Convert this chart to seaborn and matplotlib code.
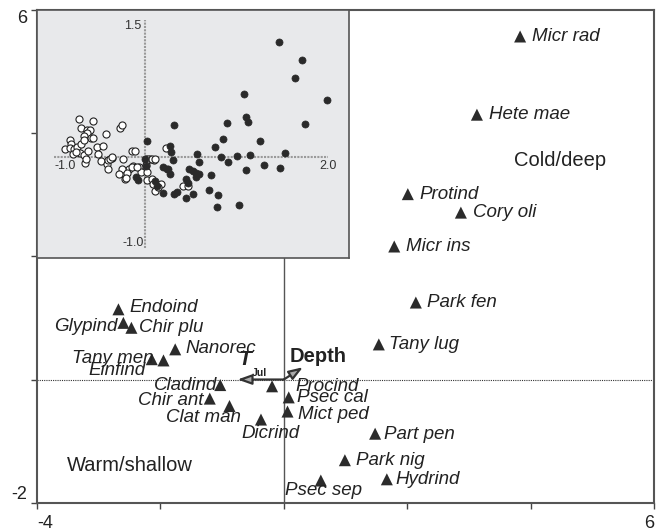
import numpy as np
import pandas as pd
import matplotlib
matplotlib.use("Agg")
import matplotlib.pyplot as plt
import seaborn as sns

# ---------------- data ----------------
species = ["Micr rad", "Hete mae", "Protind", "Cory oli", "Micr ins", "Park fen",
           "Tany lug", "Part pen", "Park nig", "Hydrind", "Psec sep", "Procind",
           "Psec cal", "Mict ped", "Dicrind", "Clat man", "Chir ant", "Cladind",
           "Nanorec", "Tany men", "Einfind", "Endoind", "Glypind", "Chir plu"]
sp_x = [3.83, 3.13, 2.01, 2.87, 1.79, 2.14, 1.54, 1.48, 0.99, 1.67, 0.60, -0.19,
        0.08, 0.06, -0.37, -0.88, -1.20, -1.03, -1.76, -2.14, -1.95, -2.68, -2.60, -2.47]
sp_y = [5.57, 4.30, 3.01, 2.71, 2.16, 1.25, 0.57, -0.88, -1.31, -1.62, -1.64, -0.11,
        -0.29, -0.52, -0.65, -0.43, -0.31, -0.09, 0.49, 0.33, 0.31, 1.14, 0.92, 0.84]

env_names = ["T", "Depth"]
env_x = [-0.75, 0.31]
env_y = [0.00, 0.20]

x_ticks = [-4, -2, 0, 2, 4, 6]
x_ticklabels = ["-4", "", "", "", "", "6"]
y_ticks = [-2, 0, 2, 4, 6]
y_ticklabels = ["-2", "", "", "", "6"]

# inset: sites (filled = cold/deep, open = warm/shallow)
fill_x = [1.465, 1.72, 1.64, 1.99, 1.08, 1.10, 1.12, 0.89, 1.75, 0.31, 0.85, 1.26,
          0.76, 0.02, 0.27, 0.28, 1.53, 0.57, 0.83, 1.00, 1.15, 0.30, 0.91, 0.59,
          1.30, 1.48, 1.10, 0.19, 0.235, 0.275, 0.48, 0.52, 0.56, 0.59, 0.56, 0.72,
          0.45, 0.465, 0.005, 0.00, -0.105, -0.075, 0.107, 0.125, 0.19, 0.31, 0.344,
          0.443, 0.52, 0.70, 0.80, 0.79, 1.03, 0.25]
fill_y = [1.26, 1.06, 0.86, 0.62, 0.69, 0.44, 0.38, 0.37, 0.36, 0.35, 0.19, 0.17,
          0.11, 0.17, 0.12, 0.055, 0.04, 0.03, 0.00, 0.005, 0.02, -0.04, -0.06, -0.06,
          -0.09, -0.12, -0.14, -0.11, -0.135, -0.19, -0.135, -0.16, -0.18, -0.19, -0.22, -0.20,
          -0.24, -0.285, -0.10, -0.02, -0.22, -0.26, -0.27, -0.32, -0.40, -0.41, -0.39,
          -0.45, -0.41, -0.36, -0.42, -0.55, -0.53, -0.13]
open_x = [-0.73, -0.57, -0.70, -0.64, -0.605, -0.634, -0.667, -0.60, -0.576, -0.43,
          -0.82, -0.817, -0.88, -0.83, -0.78, -0.744, -0.70, -0.675, -0.715, -0.67,
          -0.623, -0.788, -0.76, -0.532, -0.466, -0.521, -0.485, -0.66, -0.645, -0.415,
          -0.404, -0.368, -0.408, -0.28, -0.25, -0.24, -0.145, -0.112, 0.005, 0.052,
          0.10, 0.008, -0.065, -0.138, -0.175, -0.255, -0.29, -0.22, -0.204, -0.05,
          0.015, 0.015, 0.07, 0.08, 0.11, 0.176, 0.224, 0.41, 0.472, 0.143,
          -0.39, -0.36, -0.15, -0.094, -0.21, 0.03, 0.07, 0.11]
open_y = [0.41, 0.39, 0.31, 0.29, 0.29, 0.26, 0.23, 0.21, 0.20, 0.25,
          0.18, 0.135, 0.08, 0.10, 0.09, 0.105, 0.14, 0.18, 0.04, 0.02,
          0.06, 0.03, 0.055, 0.11, 0.115, 0.03, -0.05, -0.07, -0.03, -0.08,
          -0.04, -0.01, -0.13, 0.31, 0.35, -0.02, 0.065, 0.065, -0.02, -0.03,
          -0.04, -0.09, -0.11, -0.10, -0.13, -0.13, -0.19, -0.24, -0.175, -0.165,
          -0.165, -0.26, -0.245, -0.30, -0.38, -0.30, 0.10, -0.32, -0.32, -0.33,
          -0.02, -0.007, -0.11, -0.116, -0.23, -0.025, -0.025, -0.025]

# ---------------- style / layout ----------------
sns.set_theme(style="white")
plt.rcParams["font.family"] = ["Liberation Sans", "DejaVu Sans"]

# label offsets in pixels (dx, dy, ha, va)
label_style = {
    "Micr rad": (12, 0, "left", "center"), "Hete mae": (12, 0, "left", "center"),
    "Protind": (12, 0, "left", "center"), "Cory oli": (12, 0, "left", "center"),
    "Micr ins": (12, 0, "left", "center"), "Park fen": (11, 0, "left", "center"),
    "Tany lug": (10, 0, "left", "center"), "Part pen": (9, -1, "left", "center"),
    "Park nig": (11, 0, "left", "center"), "Hydrind": (9, 0, "left", "center"),
    "Psec sep": (3, -10, "center", "center"), "Procind": (23, 0, "left", "center"),
    "Psec cal": (8, 0, "left", "center"), "Mict ped": (10, -3, "left", "center"),
    "Dicrind": (10, -14, "center", "center"), "Clat man": (11, -11, "right", "center"),
    "Chir ant": (-6, -2, "right", "center"), "Cladind": (-3, 0, "right", "center"),
    "Nanorec": (10, 1, "left", "center"), "Tany men": (2, 1, "right", "center"),
    "Einfind": (-18, -10, "right", "center"), "Endoind": (11, 2, "left", "center"),
    "Glypind": (-6, -4, "right", "center"), "Chir plu": (8, 0, "left", "center"),
}

W, H, DPI = 661, 532, 100
fig = plt.figure(figsize=(W / DPI, H / DPI), dpi=DPI)
fig.patch.set_facecolor("white")
L, R, B, T = 37 / W, 654 / W, 1 - 502.7 / H, 1 - 10 / H
ax = fig.add_axes([L, B, R - L, T - B])
ax.set_xlim(-4, 6)
ax.set_ylim(-2, 6)

ax.axhline(0, color="#333333", lw=0.8, ls=(0, (1, 1)), zorder=1)
ax.axvline(0, color="#555555", lw=1.0, zorder=1)

sp_df = pd.DataFrame({"x": sp_x, "y": sp_y, "name": species})
sns.scatterplot(data=sp_df, x="x", y="y", marker="^", s=75, color="#2b2b2b",
                edgecolor="none", ax=ax, zorder=3, legend=False)
for n, xx, yy in zip(species, sp_x, sp_y):
    dx, dy, ha, va = label_style[n]
    ax.annotate(n, (xx, yy), xytext=(dx, dy), textcoords="offset pixels",
                ha=ha, va=va, fontsize=13.5, style="italic", color="#222222", zorder=4)

# environmental arrows
for ex, ey in zip(env_x, env_y):
    ax.annotate("", xy=(ex, ey), xytext=(0, 0),
                arrowprops=dict(arrowstyle="-|>,head_length=0.7,head_width=0.25",
                                mutation_scale=12,
                                facecolor="#aaaaaa", edgecolor="#333333", lw=1.6,
                                shrinkA=0, shrinkB=0), zorder=5)
ax.text(-0.63, 0.32, env_names[0], fontsize=15, fontweight="bold", style="italic",
        ha="center", va="center", color="#222222")
ax.text(-0.39, 0.11, "Jul", fontsize=7.5, fontweight="bold",
        ha="center", va="center", color="#222222")
ax.text(0.10, 0.37, env_names[1], fontsize=14.5, fontweight="bold",
        ha="left", va="center", color="#222222")

ax.text(4.47, 3.55, "Cold/deep", fontsize=14.5, ha="center", va="center", color="#222222")
ax.text(-2.49, -1.39, "Warm/shallow", fontsize=14.5, ha="center", va="center", color="#222222")

ax.set_xticks(x_ticks)
ax.set_xticklabels(x_ticklabels)
ax.set_yticks(y_ticks)
ax.set_yticklabels(y_ticklabels)
ax.tick_params(axis="both", direction="out", length=4, width=1, color="#444444",
               labelsize=13, labelcolor="#222222")
ax.tick_params(axis="x", pad=5)
ax.tick_params(axis="y", pad=3)
ax.tick_params(left=True, bottom=True)
xl = ax.get_xticklabels()
xl[0].set_ha("left")
xl[-1].set_ha("right")
yl = ax.get_yticklabels()
yl[0].set_va("bottom")
yl[-1].set_va("top")
ax.set_xlabel("")
ax.set_ylabel("")
for side in ["left", "bottom", "top", "right"]:
    ax.spines[side].set_visible(True)
    ax.spines[side].set_color("#555555")
    ax.spines[side].set_linewidth(1.5)

# ---------------- inset ----------------
IL, IR, IB, IT = 37 / W, 349 / W, 1 - 258 / H, 1 - 10 / H
axi = fig.add_axes([IL, IB, IR - IL, IT - IB])
axi.set_facecolor("#e8e9eb")
axi.set_xlim(-1.186, 2.231)
axi.set_ylim(-1.109, 1.607)
axi.plot([-1.0, 2.0], [0, 0], color="#9a9a9a", lw=1.5, ls=(0, (1, 0.6)), zorder=1)
axi.plot([0, 0], [-1.0, 1.5], color="#9a9a9a", lw=1.5, ls=(0, (1, 0.6)), zorder=1)
fdf = pd.DataFrame({"x": fill_x, "y": fill_y})
odf = pd.DataFrame({"x": open_x, "y": open_y})
sns.scatterplot(data=odf, x="x", y="y", s=26, color="white", edgecolor="#222222",
                linewidth=0.8, ax=axi, zorder=3, legend=False)
sns.scatterplot(data=fdf, x="x", y="y", s=26, color="#2a2a2a", edgecolor="#2a2a2a",
                linewidth=0.5, ax=axi, zorder=4, legend=False)
axi.text(-0.04, 1.43, "1.5", fontsize=9, ha="right", va="center", color="#333333")
axi.text(-0.02, -0.95, "-1.0", fontsize=9, ha="right", va="center", color="#333333")
axi.text(-0.99, -0.10, "-1.0", fontsize=9, ha="left", va="center", color="#333333")
axi.text(2.10, -0.10, "2.0", fontsize=9, ha="right", va="center", color="#333333")
axi.set_xticks([])
axi.set_yticks([])
axi.set_xlabel("")
axi.set_ylabel("")
for side in axi.spines:
    axi.spines[side].set_color("#555555")
    axi.spines[side].set_linewidth(1.2)

fig.savefig("out.png", dpi=DPI, facecolor="white")
